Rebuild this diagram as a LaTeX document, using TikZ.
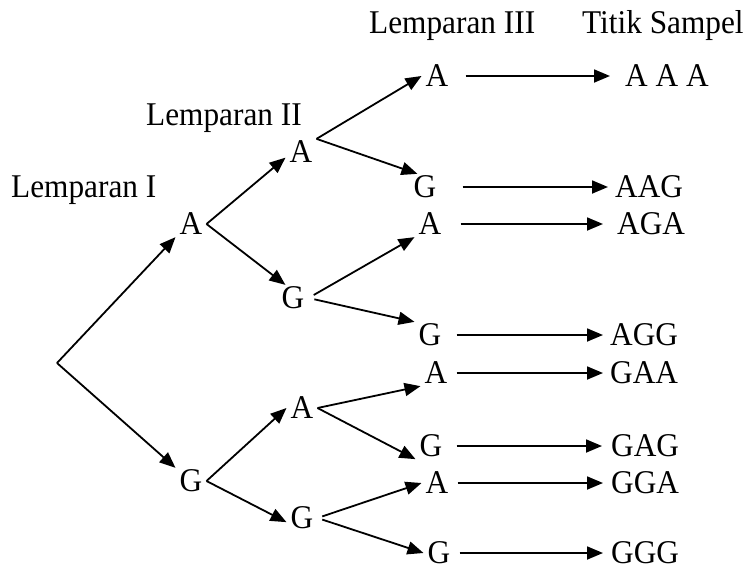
\documentclass[tikz,border=0pt]{standalone}
\usepackage{graphicx}
\usepackage{fontspec}
\setmainfont{Liberation Serif}
\usetikzlibrary{arrows.meta}
\newcommand\stt[1]{\scalebox{1}[1.06]{#1}}
\begin{document}
\begin{tikzpicture}[x=1pt,y=-1pt,
  txt/.style={font=\fontsize{31.3}{36}\selectfont},
  lbl/.style={txt, inner sep=0pt, anchor=base west},
  let/.style={txt, inner xsep=4pt, inner ysep=2pt, text height=21.9pt, text depth=0pt},
  res/.style={txt, inner xsep=0pt, inner ysep=2pt, text height=21.9pt, text depth=0pt, anchor=west},
  arr/.style={line width=1.8pt, -{Triangle[length=16pt,width=13pt]}}]
\useasboundingbox (0,0) rectangle (747,570);

% headings
\node[lbl] (h1) at (11,197) {\stt{Lemparan I}};
\node[lbl] (h2) at (146,125) {\stt{Lemparan II}};
\node[lbl] (h3) at (369,33) {\stt{Lemparan III}};
\node[lbl] (h4) at (582,33) {\stt{Titik Sampel}};

% root
\coordinate (root) at (57,363);

% level 1
\node[let] (L1A) at (191,224) {\stt{A}};
\node[let] (L1G) at (191,481) {\stt{G}};

% level 2
\node[let] (L2A) at (301,152) {\stt{A}};
\node[let] (L2G) at (293,298) {\stt{G}};
\node[let] (L2Al) at (302,408) {\stt{A}};
\node[let] (L2Gl) at (302,518) {\stt{G}};

% level 3
\node[let] (a1) at (437,76) {\stt{A}};
\node[let] (g1) at (425,187) {\stt{G}};
\node[let] (a2) at (430,224) {\stt{A}};
\node[let] (g2) at (430,335) {\stt{G}};
\node[let] (a3) at (436,373) {\stt{A}};
\node[let] (g3) at (431,446) {\stt{G}};
\node[let] (a4) at (437,483) {\stt{A}};
\node[let] (g4) at (439,553) {\stt{G}};

% sample points
\node[res] (r1) at (625,76) {\stt{A A A}};
\node[res] (r2) at (615,187) {\stt{AAG}};
\node[res] (r3) at (617,224) {\stt{AGA}};
\node[res] (r4) at (610,335) {\stt{AGG}};
\node[res] (r5) at (610,373) {\stt{GAA}};
\node[res] (r6) at (611,446) {\stt{GAG}};
\node[res] (r7) at (611,483) {\stt{GGA}};
\node[res] (r8) at (611,553) {\stt{GGG}};

% root to level 1
\draw[arr] (root) -- (L1A.south west);
\draw[arr] (root) -- (L1G.north west);

% level 1 to level 2
\draw[arr] (L1A.east) -- (L2A.200);
\draw[arr] (L1A.east) -- (L2G.120);
\draw[arr] (L1G.east) -- (L2Al.west);
\draw[arr] (L1G.east) -- (L2Gl.195);

% level 2 to level 3
\draw[arr] (L2A.north east) -- (a1.west);
\draw[arr] (L2A.north east) -- (g1.120);
\draw[arr, shorten <=6pt] (L2G.east) -- (a2.south west);
\draw[arr, shorten <=6pt] (L2G.east) -- (g2.north west);
\draw[arr] (L2Al.east) -- (a3.south west);
\draw[arr] (L2Al.east) -- (g3.south west);
\draw[arr, shorten <=5pt] (L2Gl.east) -- (a4.west);
\draw[arr, shorten <=5pt] (L2Gl.east) -- (g4.west);

% level 3 to sample points
\draw[arr, shorten <=13pt, shorten >=15pt] (a1.east) -- (r1.west);
\draw[arr, shorten <=22pt, shorten >=7pt] (g1.east) -- (r2.west);
\draw[arr, shorten <=15pt, shorten >=14pt] (a2.east) -- (r3.west);
\draw[arr, shorten <=11pt, shorten >=7pt] (g2.east) -- (r4.west);
\draw[arr, shorten <=5pt, shorten >=7pt] (a3.east) -- (r5.west);
\draw[arr, shorten <=10pt, shorten >=9pt] (g3.east) -- (r6.west);
\draw[arr, shorten <=5pt, shorten >=8pt] (a4.east) -- (r7.west);
\draw[arr, shorten <=5pt, shorten >=8pt] (g4.east) -- (r8.west);
\end{tikzpicture}
\end{document}
